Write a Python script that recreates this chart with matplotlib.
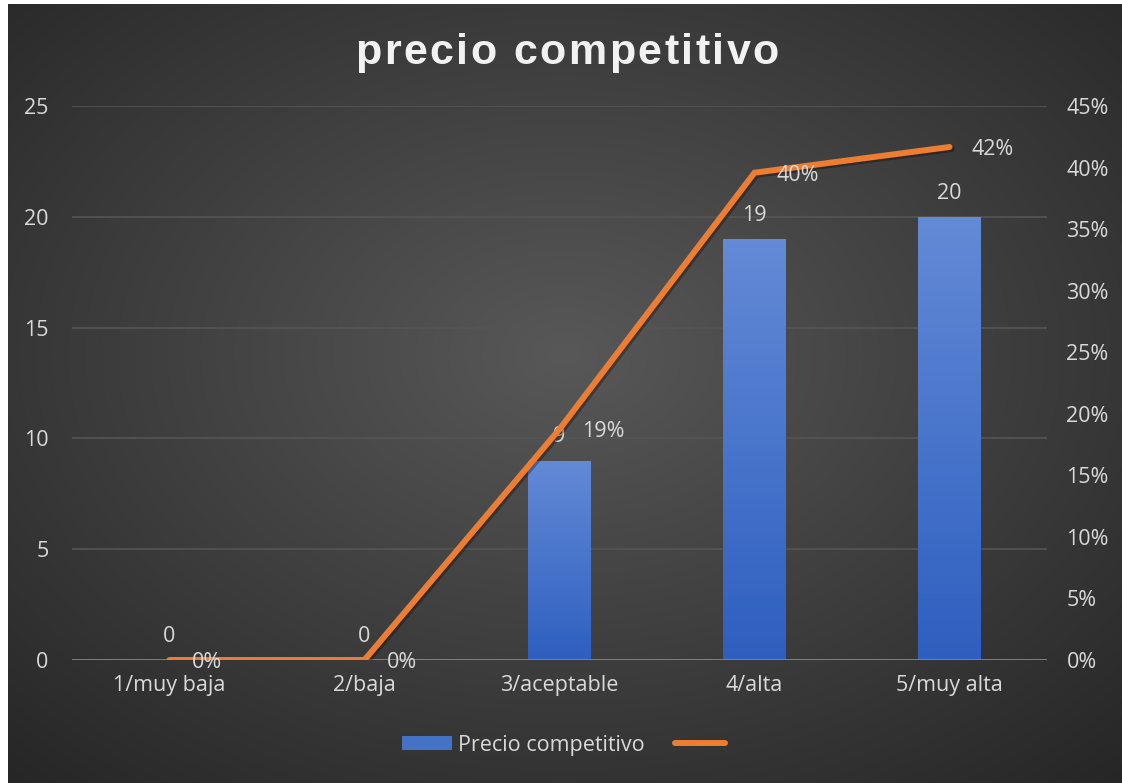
import numpy as np
import matplotlib
matplotlib.use("Agg")
import matplotlib.pyplot as plt
import matplotlib.patheffects as pe
from matplotlib.patches import Patch
from matplotlib.lines import Line2D
from matplotlib.ticker import FuncFormatter

# datos
categorias = ["1/muy baja", "2/baja", "3/aceptable", "4/alta", "5/muy alta"]
valores = [0, 0, 9, 19, 20]
porcentajes = [0.0, 0.0, 0.1875, 0.3958, 0.4167]
etiquetas_pct = ["0%", "0%", "19%", "40%", "42%"]
serie = "Precio competitivo"
titulo = "precio competitivo"

txt = "#d9d9d9"
naranja = "#ed7d31"
fs = 15.5
plt.rcParams["font.family"] = ["Open Sans", "DejaVu Sans"]

fig = plt.figure(figsize=(11.22, 7.83), dpi=100)
fig.patch.set_facecolor("white")

# fondo con degradado radial
bg = fig.add_axes([8 / 1122, 0, 1 - 8 / 1122, 1 - 4 / 783], zorder=-10)
yy, xx = np.mgrid[0:1:400j, 0:1:600j]
r = np.sqrt(((xx - 0.5) / 0.75) ** 2 + ((yy - 0.45) / 0.75) ** 2)
r = np.clip(r / r.max(), 0, 1)
c0, c1 = np.array([0x58, 0x58, 0x58]) / 255, np.array([0x26, 0x26, 0x26]) / 255
img = c0[None, None, :] * (1 - r[..., None]) + c1[None, None, :] * r[..., None]
bg.imshow(img, aspect="auto", extent=[0, 1, 0, 1], interpolation="bilinear")
bg.axis("off")

ax = fig.add_axes([72 / 1122, 123 / 783, 975 / 1122, 554 / 783])
ax.set_facecolor("none")
x = np.arange(len(categorias))
ancho = 0.32

# barras con degradado
barras = ax.bar(x, valores, width=ancho, color="none", zorder=3)
grad = np.linspace(0, 1, 100)[:, None]
top = np.array([0x63, 0x8a, 0xd6]) / 255
bot = np.array([0x2e, 0x5f, 0xc0]) / 255
gimg = top[None, None, :] * (1 - grad[..., None]) + bot[None, None, :] * grad[..., None]
for b in barras:
    if b.get_height() > 0:
        im = ax.imshow(gimg, extent=[b.get_x(), b.get_x() + b.get_width(), 0, b.get_height()],
                       aspect="auto", zorder=3)
        im.set_clip_path(b)

ax.set_xlim(-0.5, len(categorias) - 0.5)
ax.set_ylim(0, 25)
ax.set_yticks(range(0, 26, 5))
ax.set_xticks(x)
ax.set_xticklabels(categorias)
ax.yaxis.grid(True, color="#555555", linewidth=1.2, zorder=0)
ax.set_axisbelow(True)
for s in ax.spines.values():
    s.set_visible(False)
ax.axhline(0, color="#8c8c8c", linewidth=1.8, zorder=4)
ax.tick_params(axis="both", length=0, colors=txt, labelsize=fs)
ax.tick_params(axis="y", pad=17)
ax.tick_params(axis="x", pad=11)

for xi, v in zip(x, valores):
    ax.annotate(str(v), (xi, v), xytext=(0, 17), textcoords="offset points",
                ha="center", va="center", color=txt, fontsize=fs, zorder=6)

# linea de porcentaje
ax2 = ax.twinx()
ax2.set_facecolor("none")
ax2.set_ylim(0, 0.45)
ax2.set_yticks(np.arange(0, 0.451, 0.05))
ax2.yaxis.set_major_formatter(FuncFormatter(lambda v, p: f"{v * 100:.0f}%"))
for s in ax2.spines.values():
    s.set_visible(False)
ax2.tick_params(axis="y", length=0, colors=txt, labelsize=fs, pad=14)
ax2.plot(x, porcentajes, color=naranja, linewidth=4.3, solid_capstyle="round",
         solid_joinstyle="miter", zorder=5,
         path_effects=[pe.SimpleLineShadow(offset=(1.5, -1.5), alpha=0.3), pe.Normal()])
for xi, p, t in zip(x, porcentajes, etiquetas_pct):
    ax2.annotate(t, (xi, p), xytext=(16, -2), textcoords="offset points",
                 ha="left", va="center", color=txt, fontsize=fs, zorder=6)

# titulo con espaciado entre letras
renderer = fig.canvas.get_renderer()
tprops = dict(color="#f2f2f2", fontsize=31, fontweight="bold",
              family=["Liberation Sans", "DejaVu Sans"], va="center", ha="left")
espacio = 2.5
anchos = []
for ch in titulo:
    t = fig.text(0, 0, ch if ch != " " else "a a", **tprops)
    w = t.get_window_extent(renderer).width
    if ch == " ":
        t2 = fig.text(0, 0, "aa", **tprops)
        w = w - t2.get_window_extent(renderer).width
        t2.remove()
    t.remove()
    anchos.append(w)
total = sum(anchos) + espacio * (len(titulo) - 1)
xpos = 567 - total / 2
ytit = 783 - 53
for ch, w in zip(titulo, anchos):
    if ch != " ":
        fig.text(xpos / 1122, ytit / 783, ch, **tprops)
    xpos += w + espacio

handles = [Patch(facecolor="#4472c4"), Line2D([0], [0], color=naranja, linewidth=4.3, solid_capstyle="round")]
leg = fig.legend(handles, [serie, ""], loc="center", bbox_to_anchor=(0.505, 1 - 745 / 783),
                 ncol=2, frameon=False, fontsize=fs, handlelength=2.3, handleheight=0.6,
                 columnspacing=1.4, handletextpad=0.3)
for t in leg.get_texts():
    t.set_color(txt)

fig.savefig("out.png", dpi=100, facecolor=fig.get_facecolor())
